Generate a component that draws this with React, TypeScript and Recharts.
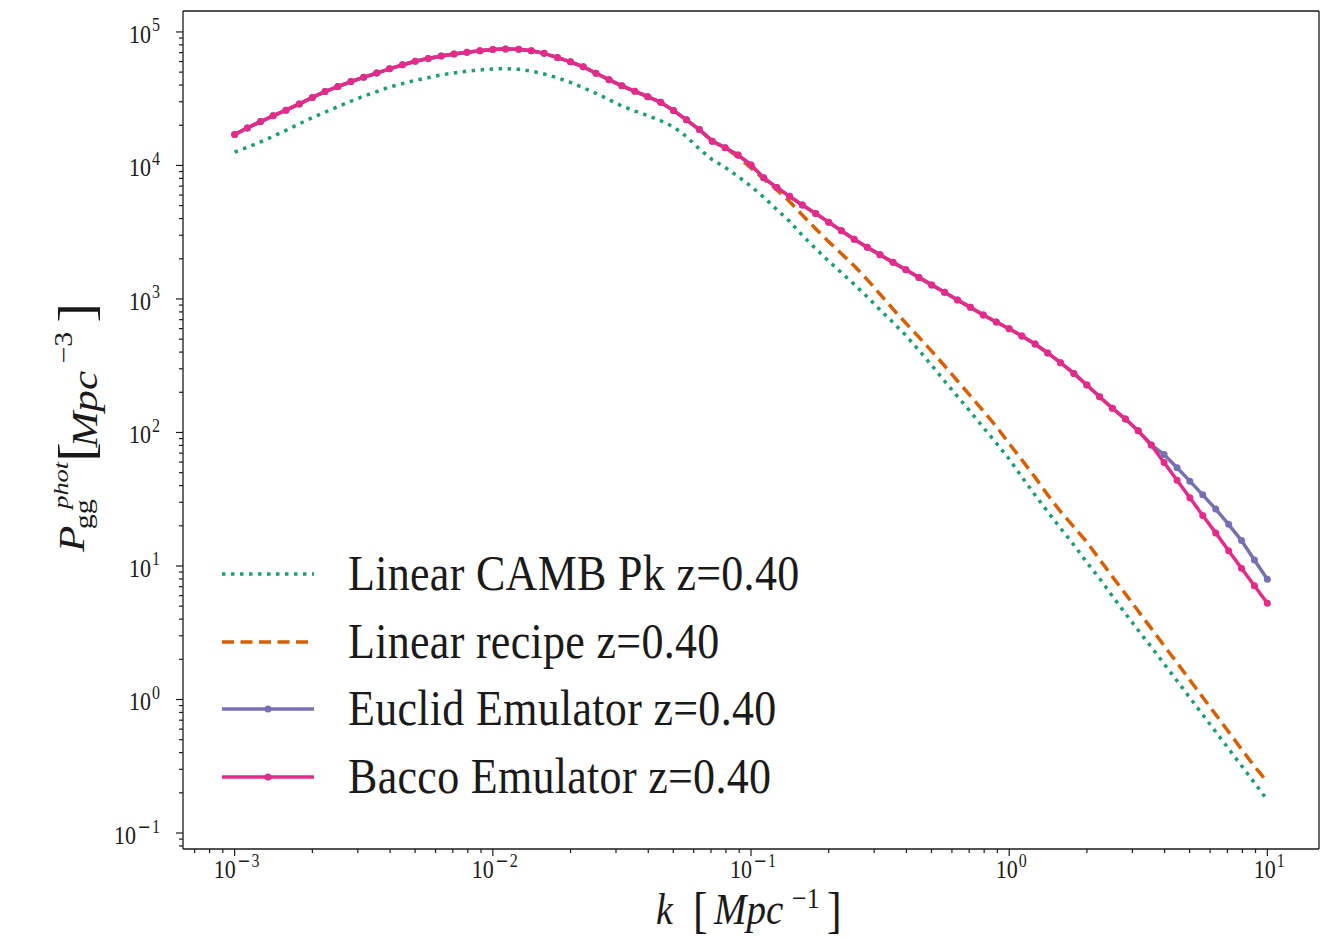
import React from "react";
import { LineChart, Line, XAxis, YAxis, Legend, ReferenceLine } from "recharts";

const SERIF = '"Liberation Serif", "Times New Roman", serif';
const INK = "#1a1a1a";

// k grid [Mpc^-1], 0.05 dex steps
const kValues = [
  0.001, 0.00112, 0.00126, 0.00141, 0.00158, 0.00178, 0.002, 0.00224, 0.00251, 0.00282,
  0.00316, 0.00355, 0.00398, 0.00447, 0.00501, 0.00562, 0.00631, 0.00708, 0.00794, 0.00891,
  0.01, 0.0112, 0.0126, 0.0141, 0.0158, 0.0178, 0.02, 0.0224, 0.0251, 0.0282,
  0.0316, 0.0355, 0.0398, 0.0447, 0.0501, 0.0562, 0.0631, 0.0708, 0.0794, 0.0891,
  0.1, 0.112, 0.126, 0.141, 0.158, 0.178, 0.2, 0.224, 0.251, 0.282,
  0.316, 0.355, 0.398, 0.447, 0.501, 0.562, 0.631, 0.708, 0.794, 0.891,
  1, 1.12, 1.26, 1.41, 1.58, 1.78, 2, 2.24, 2.51, 2.82,
  3.16, 3.55, 3.98, 4.47, 5.01, 5.62, 6.31, 7.08, 7.94, 8.91, 10,
];

const cambPk = [
  12560, 13690, 15000, 16520, 18320, 20490, 22810, 25080, 27570, 30260,
  33050, 35710, 38670, 41000, 43410, 45450, 47620, 49310, 50860, 51930,
  52820, 53100, 52560, 50860, 48460, 45370, 41860, 38190, 34680, 31110,
  27860, 25560, 23680, 21610, 19460, 16470, 13270, 11050, 9678, 8272,
  6986, 5788, 4659, 3819, 2995, 2381, 1919, 1574, 1289, 1037,
  830, 666, 533, 413, 318, 243, 186, 143, 109, 83.4,
  63.3, 46.4, 34.0, 25.5, 19.2, 14.4, 10.6, 8.06, 5.95, 4.4,
  3.3, 2.48, 1.85, 1.38, 1.03, 0.768, 0.573, 0.427, 0.319, 0.238, 0.177,
];

const recipePk = [
  17070, 19060, 21320, 23520, 25960, 28880, 32310, 35770, 38990, 42510,
  45680, 49220, 52920, 56710, 60330, 63200, 66110, 68320, 70460, 72320,
  73950, 74600, 74210, 72320, 69140, 64300, 59700, 54870, 49050, 43910,
  39470, 35950, 32760, 29740, 25820, 21960, 18570, 15210, 13570, 11580,
  9578, 7935, 6566, 5365, 4258, 3355, 2687, 2181, 1774, 1395,
  1087, 839, 659, 518, 407, 316, 243, 188, 145, 111,
  82.6, 62.4, 46.1, 34.1, 25.6, 19.6, 15.1, 11.2, 8.33, 6.18,
  4.6, 3.41, 2.53, 1.88, 1.4, 1.04, 0.771, 0.572, 0.425, 0.316, 0.241,
];

const euclidPk = [
  17070, 19060, 21320, 23520, 25960, 28880, 32310, 35770, 38990, 42510,
  45680, 49220, 52920, 56710, 60330, 63200, 66110, 68320, 70460, 72320,
  73950, 74600, 74210, 72320, 69140, 64300, 59700, 54870, 49050, 43910,
  39470, 35950, 32760, 29740, 25820, 21960, 18570, 15210, 13570, 11970,
  10090, 8074, 6832, 5868, 5059, 4363, 3762, 3247, 2800, 2440,
  2140, 1880, 1652, 1451, 1275, 1121, 983, 865, 759, 673,
  599, 529, 460, 394, 333, 277, 227, 185, 152, 126,
  103, 80.6, 68.3, 54.5, 43.2, 34.1, 26.7, 20.5, 15.5, 11.1, 7.95,
];

const baccoPk = [
  17070, 19060, 21320, 23520, 25960, 28880, 32310, 35770, 38990, 42510,
  45680, 49220, 52920, 56710, 60330, 63200, 66110, 68320, 70460, 72320,
  73950, 74600, 74210, 72320, 69140, 64300, 59700, 54870, 49050, 43910,
  39470, 35950, 32760, 29740, 25820, 21960, 18570, 15210, 13570, 11970,
  10090, 8074, 6832, 5868, 5059, 4363, 3762, 3247, 2800, 2440,
  2140, 1880, 1652, 1451, 1275, 1121, 983, 865, 759, 673,
  599, 529, 460, 394, 333, 277, 227, 185, 152, 126,
  103, 80.6, 59.5, 43.9, 32.4, 23.9, 17.7, 13.0, 9.63, 7.11, 5.26,
];

const seriesNames = [
  "Linear CAMB Pk z=0.40",
  "Linear recipe z=0.40",
  "Euclid Emulator z=0.40",
  "Bacco Emulator z=0.40",
];

const xMajorTicks = [0.001, 0.01, 0.1, 1, 10];
const yMajorTicks = [0.1, 1, 10, 100, 1000, 10000, 100000];
const X_DOMAIN: [number, number] = [0.000631, 15.85];
const Y_DOMAIN: [number, number] = [0.0759, 143500];

const GREEN = "#1b9e77";
const ORANGE = "#d95f02";
const PURPLE = "#7570b3";
const PINK = "#e7298a";

const data = kValues.map((k, i) => ({
  k,
  camb: cambPk[i],
  recipe: recipePk[i],
  euclid: euclidPk[i],
  bacco: baccoPk[i],
}));

// log axis ticks: majors plus 2..9 minors inside the domain
function withMinors(majors: number[], [lo, hi]: [number, number]) {
  const out: number[] = [];
  [majors[0] / 10, ...majors].forEach((m) => {
    for (let d = 1; d <= 9; d++) {
      const v = Number((m * d).toPrecision(6));
      if (v >= lo && v <= hi) out.push(v);
    }
  });
  return out;
}
const xTicks = withMinors(xMajorTicks, X_DOMAIN);
const yTicks = withMinors(yMajorTicks, Y_DOMAIN);

const isMajor = (v: number) => Math.abs(Math.log10(v) - Math.round(Math.log10(v))) < 1e-6;

// "10" with a superscript exponent, mathtext-ish spacing (wide minus)
function PowerText({ v, anchor }: { v: number; anchor: "middle" | "end" }) {
  const e = Math.round(Math.log10(v));
  return (
    <text textAnchor={anchor} fontFamily={SERIF} fontSize={22} fill={INK}>
      10
      {e < 0 && (
        <tspan dx={1.5} dy={-10} fontSize={16} fontFamily='"DejaVu Sans", sans-serif'>
          {"\u2212"}
        </tspan>
      )}
      <tspan dx={1} dy={e < 0 ? 0 : -10} fontSize={16}>
        {Math.abs(e)}
      </tspan>
    </text>
  );
}

function XTick(props: any) {
  const { x, y, payload } = props;
  const major = isMajor(payload.value);
  return (
    <g>
      <line x1={x} x2={x} y1={y} y2={y + (major ? 7 : 4)} stroke={INK} strokeWidth={1.2} />
      {major && (
        <g transform={`translate(${x + 2},${y + 29}) scale(1,1.15)`}>
          <PowerText v={payload.value} anchor="middle" />
        </g>
      )}
    </g>
  );
}

function YTick(props: any) {
  const { x, y, payload } = props;
  const major = isMajor(payload.value);
  return (
    <g>
      <line x1={x} x2={x - (major ? 7 : 4)} y1={y} y2={y} stroke={INK} strokeWidth={1.2} />
      {major && (
        <g transform={`translate(${x - 23},${y + 11}) scale(1,1.15)`}>
          <PowerText v={payload.value} anchor="end" />
        </g>
      )}
    </g>
  );
}

function XLabel(props: any) {
  const vb = props.viewBox;
  const cx = vb.x + vb.width / 2;
  const by = vb.y + 75;
  return (
    <g transform={`translate(${cx},${by}) scale(1,1.15)`} fontFamily={SERIF} fill={INK}>
      <text x={-95} y={0} fontSize={38} fontStyle="italic">k</text>
      <text x={-58} y={3} fontSize={44}>[</text>
      <text x={-37} y={0} fontSize={39} fontStyle="italic">Mpc</text>
      <text x={41} y={-14} fontSize={26}>{"\u22121"}</text>
      <text x={76} y={3} fontSize={44}>]</text>
    </g>
  );
}

function YLabel() {
  return (
    <g transform="translate(84,552) rotate(-90) scale(1.2,1)" fontFamily={SERIF} fill={INK}>
      <text x={0} y={0} fontSize={36} fontStyle="italic">P</text>
      <text x={19} y={8} fontSize={25}>gg</text>
      <text x={36} y={-16} fontSize={22} fontStyle="italic">phot</text>
      <text x={75} y={9} fontSize={50}>[</text>
      <text x={87} y={13} fontSize={36} fontStyle="italic">Mpc</text>
      <text x={157} y={-12} fontSize={25}>{"\u22123"}</text>
      <text x={191} y={9} fontSize={50}>]</text>
    </g>
  );
}

const legendRows = [
  { name: seriesNames[0], color: GREEN, dash: "3.5 5.5", marker: false },
  { name: seriesNames[1], color: ORANGE, dash: "12 6.5", marker: false },
  { name: seriesNames[2], color: PURPLE, dash: undefined, marker: true },
  { name: seriesNames[3], color: PINK, dash: undefined, marker: true },
];

function LegendBox() {
  return (
    <div style={{ position: "relative", width: 640, height: 272 }}>
      {legendRows.map((r, i) => (
        <div
          key={r.name}
          style={{
            position: "absolute",
            left: 0,
            top: i * 67.7,
            height: 67.7,
            display: "flex",
            alignItems: "center",
          }}
        >
          <svg width={92} height={20} style={{ display: "block" }}>
            <line x1={0} x2={92} y1={10} y2={10} stroke={r.color} strokeWidth={3.5} strokeDasharray={r.dash} />
            {r.marker && <circle cx={46} cy={10} r={3.5} fill={r.color} />}
          </svg>
          <span
            style={{
              marginLeft: 34,
              fontFamily: SERIF,
              fontSize: 44,
              letterSpacing: 0.3,
              lineHeight: "67.7px",
              whiteSpace: "nowrap",
              display: "inline-block",
              transform: "scaleY(1.15)",
              color: INK,
            }}
          >
            {r.name}
          </span>
        </div>
      ))}
    </div>
  );
}

export default function App() {
  return (
    <div style={{ position: "absolute", left: 0, top: 0, width: 1323, height: 939, background: "#fff" }}>
      <LineChart width={1323} height={939} data={data} margin={{ top: 11, right: 4, left: 83, bottom: 30 }}>
        <XAxis
          dataKey="k"
          type="number"
          scale="log"
          domain={X_DOMAIN}
          allowDataOverflow
          ticks={xTicks}
          interval={0}
          tick={<XTick />}
          tickLine={false}
          tickSize={0}
          tickMargin={0}
          height={60}
          axisLine={{ stroke: INK, strokeWidth: 1.3 }}
          label={{ content: <XLabel /> }}
        />
        <YAxis
          type="number"
          scale="log"
          domain={Y_DOMAIN}
          allowDataOverflow
          ticks={yTicks}
          interval={0}
          tick={<YTick />}
          tickLine={false}
          tickSize={0}
          tickMargin={0}
          width={100}
          axisLine={{ stroke: INK, strokeWidth: 1.3 }}
          label={{ content: <YLabel /> }}
        />
        <ReferenceLine y={Y_DOMAIN[1]} stroke={INK} strokeWidth={1.3} />
        <ReferenceLine x={X_DOMAIN[1]} stroke={INK} strokeWidth={1.3} />
        <Line
          dataKey="camb"
          name={seriesNames[0]}
          type="linear"
          stroke={GREEN}
          strokeWidth={3.5}
          strokeDasharray="3.5 5.5"
          dot={false}
          isAnimationActive={false}
        />
        <Line
          dataKey="recipe"
          name={seriesNames[1]}
          type="linear"
          stroke={ORANGE}
          strokeWidth={3.5}
          strokeDasharray="12 6.5"
          dot={false}
          isAnimationActive={false}
        />
        <Line
          dataKey="euclid"
          name={seriesNames[2]}
          type="linear"
          stroke={PURPLE}
          strokeWidth={3.5}
          dot={{ r: 3.5, fill: PURPLE, stroke: PURPLE, strokeWidth: 0 }}
          isAnimationActive={false}
        />
        <Line
          dataKey="bacco"
          name={seriesNames[3]}
          type="linear"
          stroke={PINK}
          strokeWidth={3.5}
          dot={{ r: 3.5, fill: PINK, stroke: PINK, strokeWidth: 0 }}
          isAnimationActive={false}
        />
        <Legend
          layout="vertical"
          align="center"
          verticalAlign="middle"
          content={<LegendBox />}
          wrapperStyle={{ left: 222, top: 540, width: 640, height: 272 }}
        />
      </LineChart>
    </div>
  );
}
